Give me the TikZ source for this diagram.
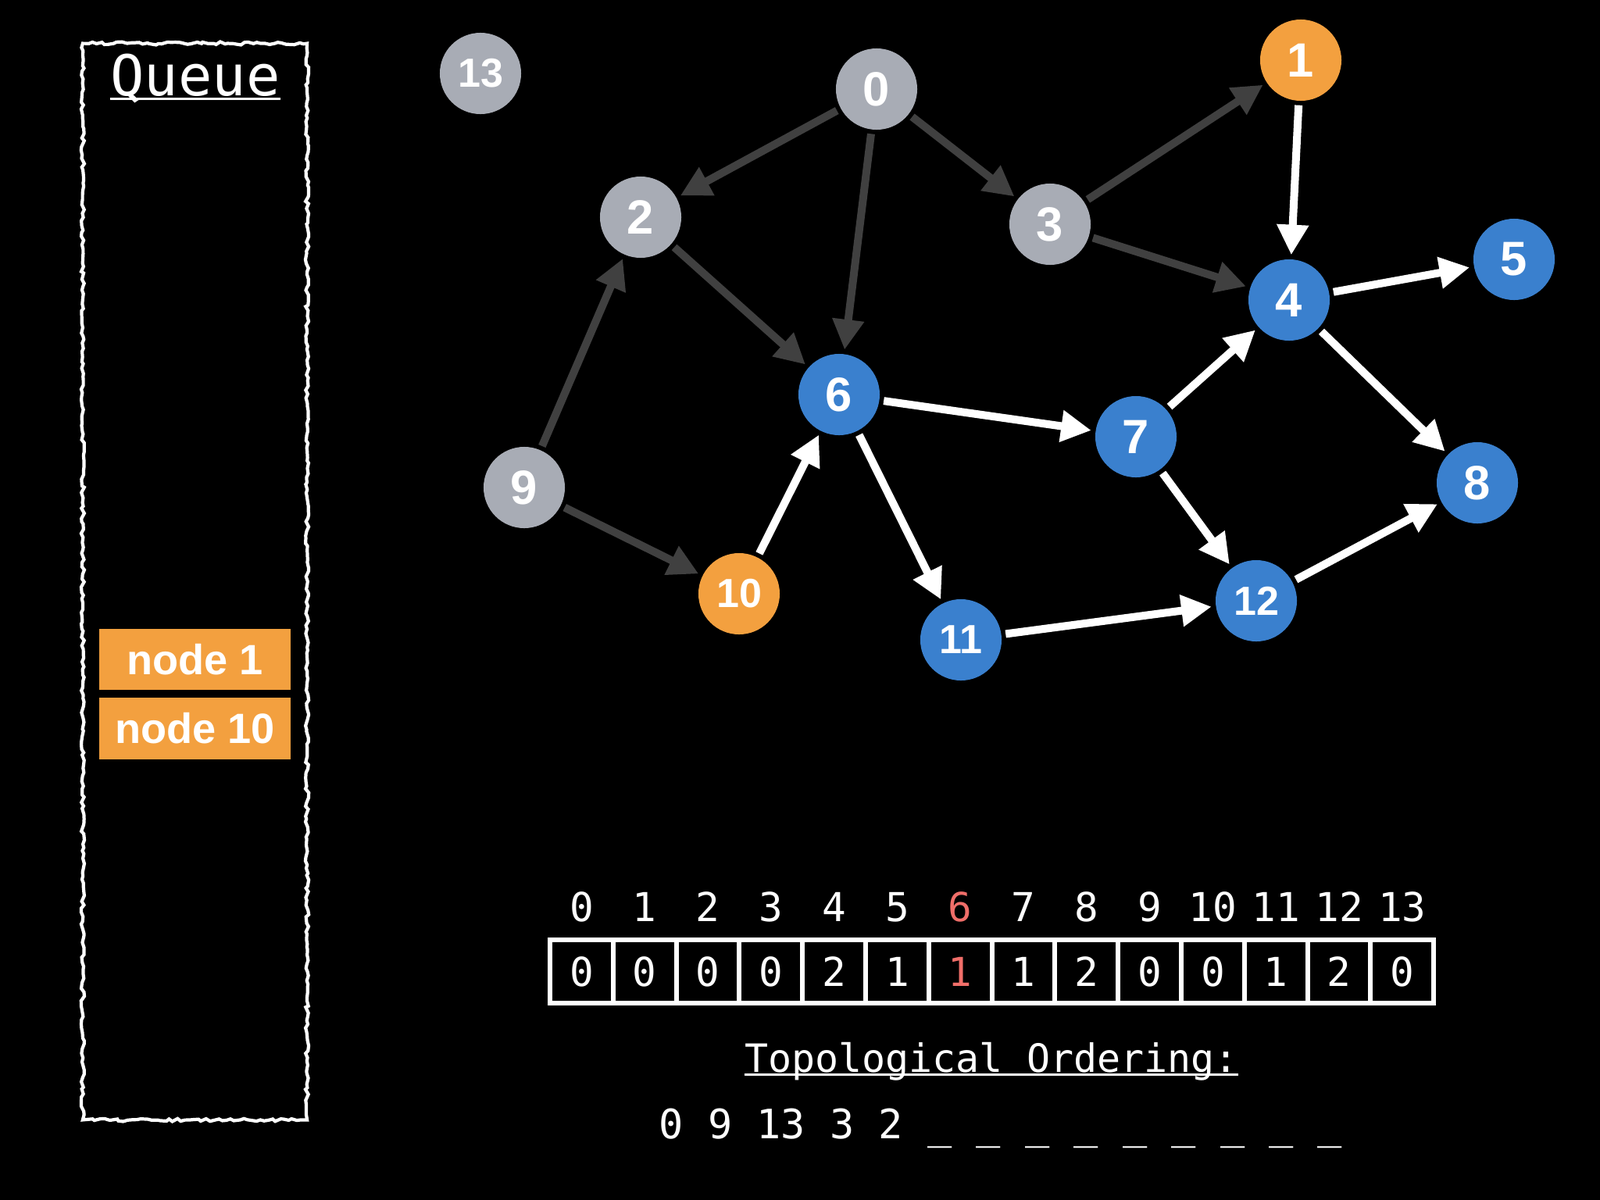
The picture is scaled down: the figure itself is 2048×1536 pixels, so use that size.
\documentclass[tikz,border=0pt]{standalone}
\usepackage{fontspec}
\setmainfont{Liberation Sans}
\setmonofont{DejaVu Sans Mono}
\usetikzlibrary{arrows.meta,decorations.pathmorphing}
\definecolor{ngraycol}{RGB}{168,172,181}
\definecolor{nbluecol}{RGB}{58,128,206}
\definecolor{norangecol}{RGB}{243,160,63}
\definecolor{edgegray}{RGB}{64,64,64}
\definecolor{idxred}{RGB}{240,110,105}
\begin{document}
\begin{tikzpicture}[x=0.01cm,y=-0.01cm,
  gnode/.style={circle, minimum size=1.04cm, inner sep=0pt, text=white, font=\bfseries\fontsize{17.5}{17.5}\selectfont},
  gsmall/.style={font=\bfseries\fontsize{14.8}{14.8}\selectfont},
  ngray/.style={gnode, fill=ngraycol},
  nblue/.style={gnode, fill=nbluecol},
  norange/.style={gnode, fill=norangecol},
  dedge/.style={draw=edgegray, line width=2.85pt, -{Triangle[length=11pt,width=11pt]}, shorten <=0.05cm, shorten >=0.05cm},
  wedge/.style={draw=white, line width=2.85pt, -{Triangle[length=11pt,width=11pt]}, shorten <=0.05cm, shorten >=0.05cm},
  qitem/.style={fill=norangecol, text=white, minimum width=2.45cm, minimum height=0.785cm, inner sep=0pt, font=\bfseries\fontsize{15.4}{15.4}\selectfont},
  mono/.style={text=white, inner sep=0pt, font=\ttfamily\fontsize{14.5}{14.5}\selectfont},
  cellbox/.style={draw=white, line width=1.7pt, minimum width=0.808cm, minimum height=0.81cm, inner sep=0pt, text=white, font=\ttfamily\fontsize{14.5}{14.5}\selectfont}
]
\fill[black] (0,0) rectangle (2048,1536);
\useasboundingbox (0,0) rectangle (2048,1536);

% Queue box
\node[draw=white, line width=1.2pt, decorate, decoration={random steps, segment length=1.5pt, amplitude=0.6pt}, minimum width=2.87cm, minimum height=13.77cm, inner sep=0pt] (qbox) at (249.5,744.5) {};
\node[anchor=base, text=white, inner sep=0pt, font=\ttfamily\fontsize{20.5}{20.5}\selectfont] (qtitle) at (250,122) {Queue};
\draw[white, line width=0.85pt] ([yshift=-1.4pt]qtitle.base west) -- ([yshift=-1.4pt]qtitle.base east);
\node[qitem] (q1) at (249.5,844) {node 1};
\node[qitem] (q10) at (249.5,932.5) {node 10};

% graph nodes
\node[ngray, gsmall] (n13) at (615,94) {13};
\node[ngray] (n0) at (1122,114) {0};
\node[norange] (n1) at (1665,77) {1};
\node[ngray] (n2) at (820,278) {2};
\node[ngray] (n3) at (1344,287) {3};
\node[nblue] (n4) at (1650,384) {4};
\node[nblue] (n5) at (1938,332) {5};
\node[nblue] (n6) at (1074,505) {6};
\node[nblue] (n7) at (1454,559) {7};
\node[nblue] (n8) at (1891,618) {8};
\node[ngray] (n9) at (671,624) {9};
\node[norange, gsmall] (n10) at (946,760) {10};
\node[nblue, gsmall] (n11) at (1230,819) {11};
\node[nblue, gsmall] (n12) at (1608,769) {12};

% processed edges
\draw[dedge] (n0) -- (n2);
\draw[dedge] (n0) -- (n6);
\draw[dedge] (n0) -- (n3);
\draw[dedge] (n3) -- (n1);
\draw[dedge] (n3) -- (n4);
\draw[dedge] (n2) -- (n6);
\draw[dedge] (n9) -- (n2);
\draw[dedge] (n9) -- (n10);

% remaining edges
\draw[wedge] (n1) -- (n4);
\draw[wedge] (n4) -- (n5);
\draw[wedge] (n4) -- (n8);
\draw[wedge] (n7) -- (n4);
\draw[wedge] (n6) -- (n7);
\draw[wedge] (n6) -- (n11);
\draw[wedge] (n10) -- (n6);
\draw[wedge] (n7) -- (n12);
\draw[wedge] (n11) -- (n12);
\draw[wedge] (n12) -- (n8);

% in-degree array
\foreach \i/\v/\c in {0/0/white,1/0/white,2/0/white,3/0/white,4/2/white,5/1/white,6/1/idxred,7/1/white,8/2/white,9/0/white,10/0/white,11/1/white,12/2/white,13/0/white}{
  \node[cellbox, text=\c] (cell\i) at ({744.4+80.8*\i},1243.5) {\v};
  \node[mono, text=\c, anchor=base] (idx\i) at ({744.4+80.8*\i},1179) {\i};
}

% ordering
\node[mono, anchor=base, font=\ttfamily\fontsize{14.2}{14.2}\selectfont] (topo) at (1269,1372) {Topological Ordering:};
\draw[white, line width=0.9pt] ([yshift=-0.9pt]topo.base west) -- ([yshift=-0.9pt]topo.base east);
\node[mono, anchor=base, font=\ttfamily\fontsize{14.75}{14.75}\selectfont] (order) at (1281,1457) {0 9 13 3 2 \_ \_ \_ \_ \_ \_ \_ \_ \_};
\end{tikzpicture}
\end{document}
